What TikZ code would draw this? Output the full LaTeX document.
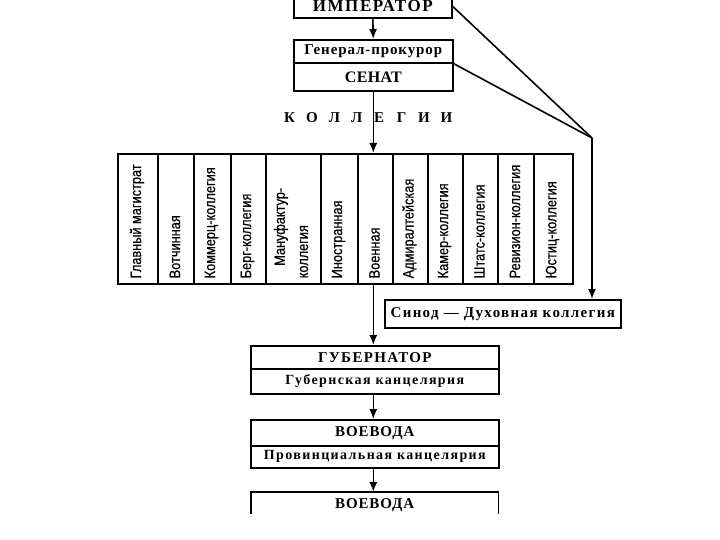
\documentclass[tikz,border=0pt]{standalone}
\usepackage{fontspec}
\setmainfont{Liberation Serif}
\newfontfamily\narrowsans[FakeStretch=0.85,FakeBold=0.6]{Liberation Sans}
\usetikzlibrary{arrows.meta}
\newcommand\kl[1]{\makebox[22.4pt]{#1}}
\begin{document}
\begin{tikzpicture}[x=1pt,y=-1pt,
  box/.style={draw, line width=1.6pt, inner sep=0pt, anchor=north west},
  arr/.style={line width=1.6pt, -{Latex[length=10pt,width=8pt]}},
  ln/.style={line width=1.6pt},
  lab/.style={rotate=90, anchor=west, inner sep=0pt, font=\narrowsans\fontsize{15}{15}\selectfont},
]
\useasboundingbox (0,0) rectangle (720,540);
% top
\node[box, minimum width=158pt, minimum height=23pt, font=\bfseries\fontsize{17}{17}\selectfont\addfontfeature{LetterSpace=9}] (imp) at (293,-6) {ИМПЕРАТОР};
\node[box, minimum width=159pt, minimum height=23pt, font=\bfseries\fontsize{15}{15}\selectfont\addfontfeature{LetterSpace=6}] (gp) at (293,39) {Генерал-прокурор};
\node[box, minimum width=159pt, minimum height=28pt, font=\bfseries\fontsize{16}{16}\selectfont\addfontfeature{LetterSpace=2}] (senat) at (293,62) {СЕНАТ};
\node[inner sep=0pt, font=\bfseries\fontsize{15}{15}\selectfont] (kol) at (368,118) {\kl{К}\kl{О}\kl{Л}\kl{Л}\kl{Е}\kl{Г}\kl{И}\kl{И}};
% collegia
\foreach \l/\w/\t [count=\i] in {117/40/Главный магистрат, 157/36/Вотчинная, 193/37/Коммерц-коллегия, 230/35/Берг-коллегия, 265/55/, 320/37/Иностранная, 357/35/Военная, 392/35/Адмиралтейская, 427/35/Камер-коллегия, 462/35/Штатс-коллегия, 497/36/Ревизион-коллегия, 533/39/Юстиц-коллегия}{
  \node[box, minimum width=\w pt, minimum height=130pt] (col\i) at (\l,153) {};
  \node[lab] (lab\i) at ({\l+\w/2},278.5) {\t};
}
\node[lab] (lab5a) at (281,266) {Мануфактур-};
\node[lab] (lab5b) at (304,278.5) {коллегия};
% synod
\node[box, minimum width=236pt, minimum height=28pt, font=\bfseries\fontsize{15}{15}\selectfont\addfontfeature{LetterSpace=9}] (sinod) at (384,299) {Синод — Духовная коллегия};
\coordinate (conv) at (592,138);
% local
\node[box, minimum width=248pt, minimum height=23pt, font=\bfseries\fontsize{15}{15}\selectfont\addfontfeature{LetterSpace=9}] (gub) at (250,345) {ГУБЕРНАТОР};
\node[box, minimum width=248pt, minimum height=25pt, font=\bfseries\fontsize{14}{14}\selectfont\addfontfeature{LetterSpace=10}] (gubk) at (250,368) {Губернская канцелярия};
\node[box, minimum width=248pt, minimum height=26pt, font=\bfseries\fontsize{15}{15}\selectfont\addfontfeature{LetterSpace=6}] (voe) at (250,419) {ВОЕВОДА};
\node[box, minimum width=248pt, minimum height=22pt, font=\bfseries\fontsize{14}{14}\selectfont\addfontfeature{LetterSpace=10}] (voek) at (250,445) {Провинциальная канцелярия};
\node[inner sep=0pt, anchor=north west, minimum width=247pt, minimum height=26pt, font=\bfseries\fontsize{15}{15}\selectfont\addfontfeature{LetterSpace=6}] (voe2) at (251,492) {ВОЕВОДА};
\draw[ln] (voe2.south west) ++(0,-4) -- (voe2.north west) -- (voe2.north east) -- ([yshift=4pt]voe2.south east);
% connectors
\draw[arr] (imp.south) -- (gp.north);
\draw[arr] (senat.south) -- (senat.south |- col7.north);
\draw[ln] (imp.east) -- (conv);
\draw[ln] (gp.south east) -- (conv);
\draw[arr] (conv) -- (conv |- sinod.north);
\draw[arr] (col7.south -| senat.south) -- (gub.north -| senat.south);
\draw[arr] (gubk.south -| senat.south) -- (voe.north -| senat.south);
\draw[arr] (voek.south -| senat.south) -- (voe2.north -| senat.south);
\end{tikzpicture}
\end{document}
